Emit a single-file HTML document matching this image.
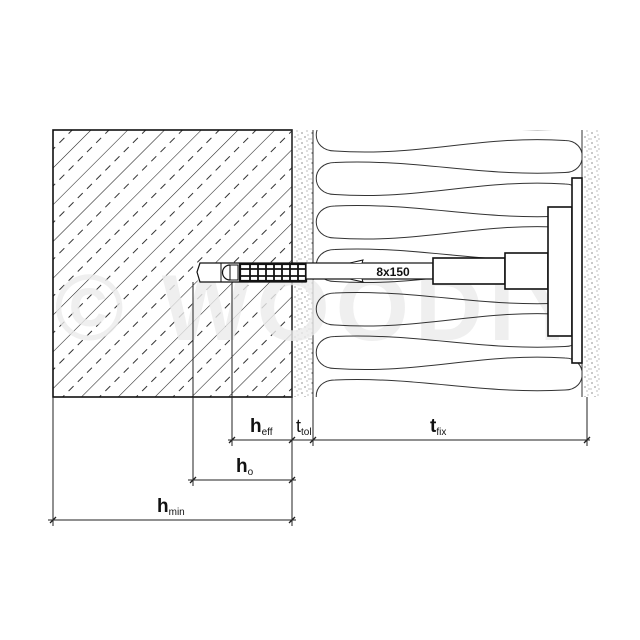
<!DOCTYPE html>
<html><head><meta charset="utf-8"><style>html,body{margin:0;padding:0;background:#fff}svg{display:block}</style></head>
<body>
<svg width="640" height="640" viewBox="0 0 640 640" xmlns="http://www.w3.org/2000/svg">
<defs>
<pattern id="hatch" width="26" height="26" patternUnits="userSpaceOnUse" patternTransform="rotate(45)">
<line x1="0" y1="0" x2="0" y2="26" stroke="#222" stroke-width="1.1"/>
<line x1="13" y1="0" x2="13" y2="26" stroke="#333" stroke-width="1" stroke-dasharray="7,6"/>
</pattern>
<pattern id="dots" width="10" height="10" patternUnits="userSpaceOnUse">
<circle cx="2" cy="3" r="0.6" fill="#444"/><circle cx="7" cy="1" r="0.5" fill="#555"/><circle cx="5" cy="7" r="0.6" fill="#444"/><circle cx="9" cy="9" r="0.5" fill="#555"/><circle cx="1" cy="9" r="0.5" fill="#666"/><circle cx="8" cy="5" r="0.5" fill="#666"/>
</pattern>
<clipPath id="ins"><rect x="313" y="130" width="269" height="267"/></clipPath>
</defs>
<rect x="53" y="130" width="239" height="267" fill="url(#hatch)"/>
<rect x="53" y="130" width="239" height="267" fill="none" stroke="#111" stroke-width="1.6"/>
<rect x="292" y="130" width="21" height="267" fill="url(#dots)"/>
<line x1="292" y1="130" x2="292" y2="397" stroke="#333" stroke-width="1"/>
<line x1="313" y1="130" x2="313" y2="397" stroke="#333" stroke-width="1"/>
<rect x="582" y="130" width="18" height="267" fill="url(#dots)"/>
<line x1="582" y1="130" x2="582" y2="397" stroke="#333" stroke-width="1"/>
<text x="322" y="340" text-anchor="middle" font-family="Liberation Sans, sans-serif" font-weight="bold" font-size="94" fill="#ebebeb" fill-opacity="0.8" letter-spacing="6">© WOODIY</text>
<path clip-path="url(#ins)" fill="none" stroke="#333" stroke-width="1" d="M335,107.5
C420,113.5 480,91.5 565,97 C588,97 588,129 565,129 C480,133.5 420,115.5 335,119 C310,119 310,151 335,151
C420,157 480,135 565,140.5 C588,140.5 588,172.5 565,172.5 C480,177 420,159 335,162.5 C310,162.5 310,194.5 335,194.5
C420,200.5 480,178.5 565,184 C588,184 588,216 565,216 C480,220.5 420,202.5 335,206 C310,206 310,238 335,238
C420,244 480,222 565,227.5 C588,227.5 588,259.5 565,259.5 C480,264 420,246 335,249.5 C310,249.5 310,281.5 335,281.5
C420,287.5 480,265.5 565,271 C588,271 588,303 565,303 C480,307.5 420,289.5 335,293 C310,293 310,325 335,325
C420,331 480,309 565,314.5 C588,314.5 588,346.5 565,346.5 C480,351 420,333 335,336.5 C310,336.5 310,368.5 335,368.5
C420,374.5 480,352.5 565,358 C588,358 588,390 565,390 C480,394.5 420,376.5 335,380 C310,380 310,412 335,412
C420,418 480,396 565,401.5"/>
<g stroke="#111" fill="#fff">
<path d="M200,263 L306,263 L306,282 L200,282 L197,272 Z" stroke-width="1.2"/>
<line x1="221" y1="263" x2="221" y2="282" stroke-width="1"/>
<path d="M230,265 A7,7 0 0 0 230,280" fill="none" stroke-width="1.2"/>
<rect x="230" y="265" width="8" height="15" stroke-width="1"/>
<rect x="240" y="264" width="66" height="17" fill="none" stroke-width="2.2"/>
<g stroke-width="1.8"><line x1="240" y1="269" x2="306" y2="269"/><line x1="240" y1="276" x2="306" y2="276"/>
<line x1="250" y1="264" x2="250" y2="281"/><line x1="258" y1="264" x2="258" y2="281"/><line x1="266" y1="264" x2="266" y2="281"/><line x1="274" y1="264" x2="274" y2="281"/><line x1="282" y1="264" x2="282" y2="281"/><line x1="290" y1="264" x2="290" y2="281"/><line x1="298" y1="264" x2="298" y2="281"/></g>
<rect x="306" y="263" width="127" height="16" stroke-width="1.2"/>
<path d="M350,263 L363,260 L362,263" stroke-width="1"/>
<path d="M350,279 L363,282 L362,279" stroke-width="1"/>
<rect x="433" y="258" width="72" height="26" stroke-width="1.6"/>
<rect x="505" y="253" width="43" height="36" stroke-width="1.6"/>
<rect x="548" y="207" width="24" height="129" stroke-width="1.6"/>
<rect x="572" y="178" width="10" height="185" stroke-width="1.6"/>
</g>
<text x="393" y="276" text-anchor="middle" font-family="Liberation Sans, sans-serif" font-weight="bold" font-size="12" fill="#111">8x150</text>
<g stroke="#222" stroke-width="1" fill="none">
<line x1="53" y1="397" x2="53" y2="526"/>
<line x1="193" y1="282" x2="193" y2="486"/>
<line x1="232" y1="282" x2="232" y2="446"/>
<line x1="292" y1="397" x2="292" y2="526"/>
<line x1="313" y1="397" x2="313" y2="446"/>
<line x1="587" y1="397" x2="587" y2="446"/>
<line x1="228" y1="440" x2="590" y2="440"/>
<line x1="188" y1="480" x2="296" y2="480"/>
<line x1="48" y1="520" x2="296" y2="520"/>
<g stroke-width="1.3">
<line x1="229" y1="443" x2="235" y2="437"/><line x1="289" y1="443" x2="295" y2="437"/><line x1="310" y1="443" x2="316" y2="437"/><line x1="584" y1="443" x2="590" y2="437"/>
<line x1="190" y1="483" x2="196" y2="477"/><line x1="289" y1="483" x2="295" y2="477"/>
<line x1="50" y1="523" x2="56" y2="517"/><line x1="289" y1="523" x2="295" y2="517"/>
</g>
</g>
<g font-family="Liberation Sans, sans-serif" fill="#111">
<text x="250" y="432" font-weight="bold" font-size="19">h<tspan font-weight="normal" font-size="10" dy="3">eff</tspan></text>
<text x="296" y="432" font-size="18">t<tspan font-size="10" dy="3">tol</tspan></text>
<text x="430" y="432" font-weight="bold" font-size="19">t<tspan font-weight="normal" font-size="10" dy="3">fix</tspan></text>
<text x="236" y="472" font-weight="bold" font-size="19">h<tspan font-weight="normal" font-size="10" dy="3">o</tspan></text>
<text x="157" y="512" font-weight="bold" font-size="19">h<tspan font-weight="normal" font-size="10" dy="3">min</tspan></text>
</g>
</svg>
</body></html>
